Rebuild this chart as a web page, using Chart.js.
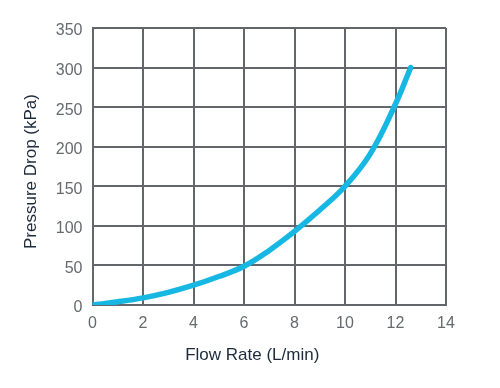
<!DOCTYPE html>
<html>
<head>
<meta charset="utf-8">
<script src="https://cdn.jsdelivr.net/npm/chart.js@4/dist/chart.umd.min.js"></script>
<style>
  html, body { margin: 0; padding: 0; background: #fff; }
  #wrap { width: 500px; height: 388px; }
</style>
</head>
<body>
<div id="wrap"><canvas id="chart"></canvas></div>
<script>
// flow rate (L/min) vs pressure drop (kPa)
const flowRate = [0, 1, 2, 3, 4, 5, 6, 7, 8, 9, 10, 11, 12, 12.6];
const pressureDrop = [0, 4, 9, 16, 25, 36, 49, 69, 93, 120, 150, 191, 254, 300];

const xTitle = 'Flow Rate (L/min)';
const yTitle = 'Pressure Drop (kPa)';

const tickFont = { family: "'Liberation Sans', Arial, sans-serif", size: 16 };
const gridColor = '#63676b';

// axis titles drawn by hand so they sit where the original puts them
const axisTitles = {
  id: 'axisTitles',
  afterDraw(chart) {
    const ctx = chart.ctx;
    const area = chart.chartArea;
    ctx.save();
    ctx.fillStyle = '#1c2a3a';
    ctx.font = "17px 'Liberation Sans', Arial, sans-serif";
    ctx.textAlign = 'center';
    ctx.textBaseline = 'middle';
    ctx.fillText(xTitle, area.left + (area.right - area.left) * 0.452, area.bottom + 50);
    ctx.translate(31, (area.top + area.bottom) / 2 + 5);
    ctx.rotate(-Math.PI / 2);
    ctx.fillText(yTitle, 0, 0);
    ctx.restore();
  }
};

const data = {
  datasets: [{
    data: flowRate.map((x, i) => ({ x: x, y: pressureDrop[i] })),
    borderColor: '#17b7e3',
    borderWidth: 5.5,
    borderCapStyle: 'round',
    tension: 0.4,
    pointRadius: 0,
    fill: false
  }]
};

const options = {
  responsive: false,
  animation: false,
  layout: { padding: { left: 17, right: 54, top: 28, bottom: 19 } },
  plugins: { legend: { display: false }, tooltip: { enabled: false } },
  scales: {
    x: {
      type: 'linear',
      min: 0,
      max: 14,
      ticks: { stepSize: 2, color: '#666a6e', font: tickFont, padding: 9 },
      grid: { color: gridColor, lineWidth: 2, drawTicks: false },
      border: { color: gridColor, width: 2 },
      afterFit(scale) { scale.height = 64; }
    },
    y: {
      type: 'linear',
      min: 0,
      max: 350,
      ticks: { stepSize: 50, color: '#666a6e', font: tickFont, padding: 10, labelOffset: 3 },
      grid: { color: gridColor, lineWidth: 2, drawTicks: false },
      border: { color: gridColor, width: 2 },
      afterFit(scale) { scale.width = 75.5; }
    }
  }
};

const canvas = document.getElementById('chart');
canvas.width = 500;
canvas.height = 388;
new Chart(canvas.getContext('2d'), {
  type: 'line',
  data: data,
  options: options,
  plugins: [axisTitles]
});
</script>
</body>
</html>
